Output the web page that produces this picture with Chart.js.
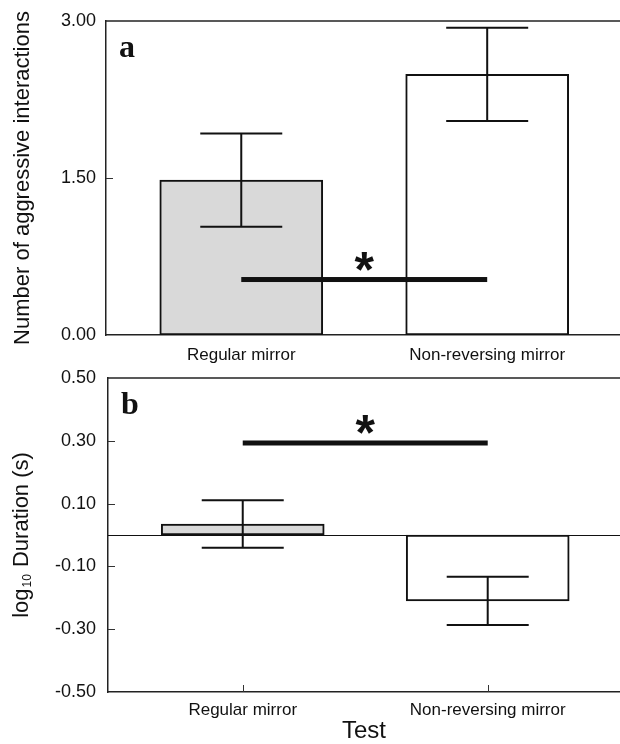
<!DOCTYPE html>
<html>
<head>
<meta charset="utf-8">
<script src="https://cdn.jsdelivr.net/npm/chart.js@4"></script>
<style>
  body { margin: 0; background: #fff; }
  #wrap { position: relative; width: 620px; height: 744px; }
  #panelA { position: absolute; left: 0; top: 0; }
  #panelB { position: absolute; left: 0; top: 355px; }
</style>
</head>
<body>
<div id="wrap">
  <canvas id="panelA" width="620" height="366"></canvas>
  <canvas id="panelB" width="620" height="389"></canvas>
</div>
<script>
// --- Data ---
const categories = ["Regular mirror", "Non-reversing mirror"];
const catPos = [1, 2];

const aggMeans = [1.48, 2.49];
const aggErr = [0.445, 0.445];
const aggTicks = [0, 1.5, 3];
const aggSig = 0.53;

const durMeans = [0.035, -0.21];
const durErr = [0.076, 0.077];
const durTicks = [-0.5, -0.3, -0.1, 0.1, 0.3, 0.5];
const durSig = 0.293;

const barFills = ["#d9d9d9", "#ffffff"];
const SANS = "'Liberation Sans', Arial, Helvetica, sans-serif";
const INK = "#111";

// --- Decorations: frame top, inward ticks, error bars, significance line ---
const panelDecor = {
  id: "panelDecor",
  beforeDatasetsDraw(chart, args, o) {
    const {ctx, chartArea: ca, scales: {x, y}} = chart;
    ctx.save();
    ctx.strokeStyle = "#333";
    ctx.lineWidth = 1;
    y.ticks.forEach(t => {
      const py = Math.round(y.getPixelForValue(t.value)) + 0.5;
      if (Math.abs(py - ca.top) < 2 || Math.abs(py - ca.bottom) < 2) return;
      ctx.beginPath(); ctx.moveTo(ca.left, py); ctx.lineTo(ca.left + 7, py); ctx.stroke();
    });
    x.ticks.forEach(t => {
      const px = Math.round(x.getPixelForValue(t.value)) + 0.5;
      ctx.beginPath(); ctx.moveTo(px, ca.bottom); ctx.lineTo(px, ca.bottom - 7); ctx.stroke();
    });
    if (o.zeroLine) {
      const py = Math.round(y.getPixelForValue(0)) + 0.5;
      ctx.strokeStyle = INK;
      ctx.beginPath(); ctx.moveTo(ca.left, py); ctx.lineTo(ca.right, py); ctx.stroke();
    }
    ctx.restore();
  },
  afterDatasetsDraw(chart, args, o) {
    const {ctx, chartArea: ca, scales: {x, y}} = chart;
    ctx.save();
    // top frame line
    ctx.strokeStyle = "#222";
    ctx.lineWidth = 1.5;
    ctx.beginPath(); ctx.moveTo(ca.left, ca.top); ctx.lineTo(ca.right, ca.top); ctx.stroke();

    // error bars
    ctx.strokeStyle = INK;
    ctx.lineWidth = 2;
    o.means.forEach((m, i) => {
      const px = x.getPixelForValue(catPos[i]);
      const hi = y.getPixelForValue(m + o.errs[i]);
      const lo = y.getPixelForValue(m - o.errs[i]);
      ctx.beginPath();
      ctx.moveTo(px, hi); ctx.lineTo(px, lo);
      ctx.moveTo(px - 41, hi); ctx.lineTo(px + 41, hi);
      ctx.moveTo(px - 41, lo); ctx.lineTo(px + 41, lo);
      ctx.stroke();
    });

    // significance bar + asterisk
    const sy = y.getPixelForValue(o.sig);
    const x1 = x.getPixelForValue(catPos[0]);
    const x2 = x.getPixelForValue(catPos[1]);
    ctx.fillStyle = INK;
    ctx.fillRect(x1, sy - 2.5, x2 - x1, 5);
    ctx.font = "bold 50px " + SANS;
    ctx.textAlign = "center";
    ctx.textBaseline = "alphabetic";
    ctx.fillText("*", (x1 + x2) / 2, sy + 7.5);

    // panel letter
    ctx.font = "bold 32px 'Liberation Serif', 'Times New Roman', serif";
    ctx.textAlign = "left";
    ctx.fillText(o.letter, ca.left + 13, ca.top + 36);
    ctx.restore();
  },
  afterDraw(chart, args, o) {
    if (!o.subTitle) return;
    // y title with subscript: log10 Duration (s)
    const {ctx, chartArea: ca} = chart;
    const [pre, sub, post] = o.subTitle;
    const big = "22px " + SANS, small = "12px " + SANS;
    ctx.save();
    ctx.fillStyle = INK;
    ctx.translate(20, (ca.top + ca.bottom) / 2);
    ctx.rotate(-Math.PI / 2);
    ctx.font = big; const w1 = ctx.measureText(pre).width; const w3 = ctx.measureText(post).width;
    ctx.font = small; const w2 = ctx.measureText(sub).width + 2;
    let u = -(w1 + w2 + w3) / 2;
    ctx.textAlign = "left";
    ctx.textBaseline = "alphabetic";
    ctx.font = big; ctx.fillText(pre, u, 8); u += w1 + 1;
    ctx.font = small; ctx.fillText(sub, u, 11); u += w2 - 1;
    ctx.font = big; ctx.fillText(post, u, 8);
    ctx.restore();
  }
};

function panelConfig(means, errs, ticks, sig, letter, extra) {
  return {
    type: "bar",
    data: {
      datasets: [{
        data: means.map((m, i) => ({x: catPos[i], y: m})),
        backgroundColor: barFills,
        borderColor: INK,
        borderWidth: 2,
        borderSkipped: false,
        barThickness: 163
      }]
    },
    options: {
      responsive: false,
      devicePixelRatio: 1,
      animation: false,
      layout: {padding: {top: extra.padTop, left: 0, right: 0, bottom: 0}},
      plugins: {
        legend: {display: false},
        tooltip: {enabled: false},
        panelDecor: {means, errs, sig, letter, zeroLine: extra.zeroLine, subTitle: extra.subTitle}
      },
      scales: {
        x: {
          type: "linear",
          offset: false,
          min: 0.45,
          max: 2.54,
          afterBuildTicks: s => { s.ticks = catPos.map(v => ({value: v})); },
          afterFit: s => { s.height = extra.xHeight; },
          grid: {display: false, drawTicks: false},
          border: {display: true, color: "#222", width: 1.5},
          ticks: {
            padding: extra.xPad,
            color: INK,
            font: {family: SANS, size: 17},
            maxRotation: 0,
            autoSkip: false,
            callback: (v, i) => categories[i]
          },
          title: extra.xTitle ? {
            display: true, text: extra.xTitle, color: INK,
            font: {family: SANS, size: 24, lineHeight: 1},
            padding: {top: 0, bottom: 1}
          } : {display: false}
        },
        y: {
          min: ticks[0],
          max: ticks[ticks.length - 1],
          afterBuildTicks: s => { s.ticks = ticks.map(v => ({value: v})); },
          afterFit: s => { s.width = extra.yWidth; },
          grid: {display: false, drawTicks: false},
          border: {display: true, color: "#222", width: 1.5},
          ticks: {
            padding: extra.yPad,
            color: INK,
            font: {family: SANS, size: 18},
            callback: v => v.toFixed(2)
          },
          title: extra.yTitle ? {
            display: true, text: extra.yTitle, color: INK,
            font: {family: SANS, size: 22},
            padding: {top: 10, bottom: 0}
          } : {display: false}
        }
      }
    },
    plugins: [panelDecor]
  };
}

new Chart(document.getElementById("panelA"),
  panelConfig(aggMeans, aggErr, aggTicks, aggSig, "a", {
    padTop: 21, xHeight: 31, xPad: 10, yWidth: 106, yPad: 10,
    yTitle: "Number of aggressive interactions"
  }));

new Chart(document.getElementById("panelB"),
  panelConfig(durMeans, durErr, durTicks, durSig, "b", {
    padTop: 23, xHeight: 52, xPad: 8, yWidth: 108, yPad: 12,
    zeroLine: true, xTitle: "Test",
    subTitle: ["log", "10", " Duration (s)"]
  }));
</script>
</body>
</html>
